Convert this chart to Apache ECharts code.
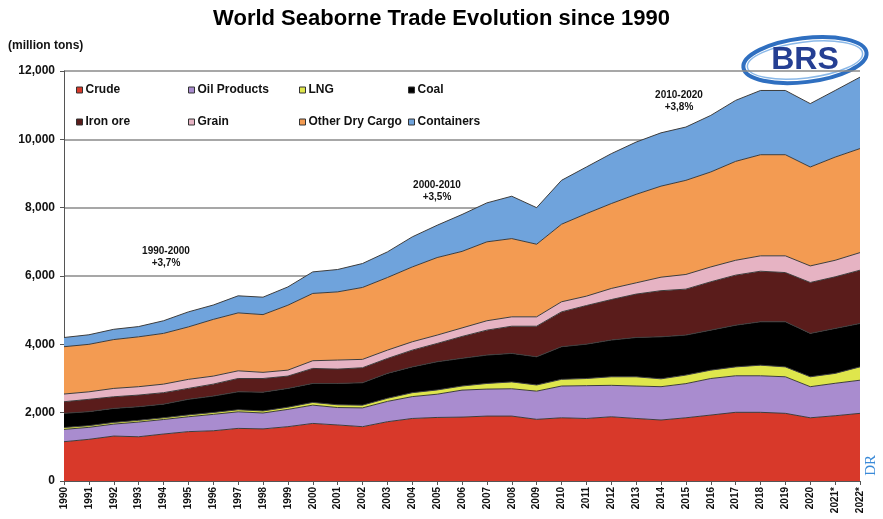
<!DOCTYPE html>
<html>
<head>
<meta charset="utf-8">
<script src="https://cdn.jsdelivr.net/npm/echarts@6/dist/echarts.min.js"></script>
<style>
html,body{margin:0;padding:0;background:#fff;}
#chart{width:883px;height:519px;}
</style>
</head>
<body>
<div id="chart"></div>
<script>
const years = ['1990','1991','1992','1993','1994','1995','1996','1997','1998','1999','2000','2001','2002','2003','2004','2005','2006','2007','2008','2009','2010','2011','2012','2013','2014','2015','2016','2017','2018','2019','2020','2021*','2022*'];

const crude       = [1150,1220,1315,1295,1375,1445,1470,1540,1525,1590,1685,1640,1590,1735,1830,1860,1870,1900,1900,1805,1850,1830,1880,1830,1785,1850,1930,2010,2010,1980,1850,1910,1980];
const oilProducts = [360,350,350,430,425,435,480,485,465,505,535,510,550,595,640,680,790,790,800,825,930,960,920,950,975,1000,1070,1070,1070,1070,910,950,970];
const lng         = [55,50,50,50,50,55,55,60,60,65,80,80,80,90,115,125,120,165,200,180,195,210,250,270,230,250,245,260,310,290,290,290,390];
const coal        = [415,410,410,400,400,455,480,525,550,550,555,625,655,730,755,825,810,830,835,825,955,1005,1075,1150,1230,1170,1170,1220,1270,1320,1270,1315,1270];
const ironOre     = [340,360,340,340,335,320,350,390,400,360,440,420,440,435,490,535,640,730,795,895,1020,1130,1185,1270,1350,1345,1415,1465,1480,1440,1490,1510,1560];
const grain       = [225,220,245,245,250,265,235,225,180,175,225,265,245,245,245,245,250,275,275,275,295,275,325,330,395,430,435,435,450,490,485,485,515];
const otherDry    = [1385,1390,1430,1460,1485,1535,1660,1695,1690,1900,1970,1995,2105,2125,2190,2270,2240,2310,2290,2125,2270,2415,2485,2590,2665,2755,2780,2895,2960,2960,2895,3020,3045];
const containers  = [270,280,300,300,370,440,420,500,510,535,630,655,700,750,880,945,1080,1140,1240,1070,1285,1365,1460,1530,1560,1560,1655,1785,1880,1880,1855,1950,2090];

const seriesNames = ['Crude','Oil Products','LNG','Coal','Iron ore','Grain','Other Dry Cargo','Containers'];
const seriesData = [crude, oilProducts, lng, coal, ironOre, grain, otherDry, containers];
const seriesColors = ['#d8392a','#a98ccf','#dfe64c','#000000','#5a1c1b','#e6b3c3','#f39b52','#6fa3dc'];

const annotations = [
  {text:'1990-2000\n+3,7%', x:166, y:245},
  {text:'2000-2010\n+3,5%', x:437, y:179},
  {text:'2010-2020\n+3,8%', x:679, y:89}
];

const FONT = '"Liberation Sans", Arial, sans-serif';
const chart = echarts.init(document.getElementById('chart'));

const legendPos = [[76,84],[188,84],[299,84],[408,84],[76,116],[188,116],[299,116],[408,116]];
const legends = seriesNames.map((n,i)=>({
  data:[n],
  left:legendPos[i][0], top:legendPos[i][1], padding:0,
  icon:'rect', itemWidth:6, itemHeight:6, itemGap:2,
  itemStyle:{borderColor:'#333', borderWidth:1},
  textStyle:{fontFamily:FONT, fontWeight:'bold', fontSize:12, color:'#111', padding:[0,0,0,-2]},
  selectedMode:false
}));

const option = {
  backgroundColor:'#ffffff',
  animation:false,
  title:{
    text:'World Seaborne Trade Evolution since 1990',
    left:'center', top:3,
    textStyle:{fontFamily:FONT, fontWeight:'bold', fontSize:22, color:'#000'}
  },
  legend:legends,
  grid:{left:64, right:23, top:71, bottom:38},
  xAxis:{
    type:'category', data:years, boundaryGap:false,
    axisLine:{lineStyle:{color:'#555', width:1}},
    axisTick:{show:true, length:4, lineStyle:{color:'#555'}},
    axisLabel:{rotate:90, fontFamily:FONT, fontWeight:'bold', fontSize:10, color:'#111', margin:6, interval:0},
    splitLine:{show:false}
  },
  yAxis:{
    type:'value', min:0, max:12000, interval:2000,
    name:'(million tons)', nameLocation:'end', nameGap:19,
    nameTextStyle:{fontFamily:FONT, fontWeight:'bold', fontSize:12, color:'#111', align:'left', padding:[0,0,0,-56]},
    axisLine:{show:true, lineStyle:{color:'#555', width:1}},
    axisTick:{show:true, length:4, lineStyle:{color:'#555'}},
    axisLabel:{fontFamily:FONT, fontWeight:'bold', fontSize:12, color:'#111', margin:9,
      formatter:v=>v.toLocaleString('en-US')},
    splitLine:{show:true, lineStyle:{color:'#8a8a8a', width:1.5}}
  },
  series:seriesNames.map((n,i)=>({
    name:n, type:'line', stack:'total', data:seriesData[i],
    symbol:'none', smooth:false,
    lineStyle:{color:'#3d3d3d', width:1},
    areaStyle:{color:seriesColors[i], opacity:1},
    itemStyle:{color:seriesColors[i]},
    z:2
  })),
  graphic:[
    ...annotations.map(a=>({
      type:'text', left:a.x-30, top:a.y, z:10,
      style:{text:a.text, fontFamily:FONT, fontWeight:'bold', fontSize:10, fill:'#111', textAlign:'center', lineHeight:12, width:60}
    })),
    {type:'group', left:738, top:28, z:20, children:[
      {type:'ellipse', shape:{cx:64, cy:26, rx:62, ry:22},
        style:{fill:'none', stroke:'#2f6fc0', lineWidth:4}, rotation:0.12, originX:64, originY:26},
      {type:'ellipse', shape:{cx:64, cy:26, rx:58, ry:18},
        style:{fill:'#ffffff', stroke:'#8ab8e8', lineWidth:1.5}, rotation:0.12, originX:64, originY:26},
      {type:'text', x:64, y:26, style:{text:'BRS', fontFamily:FONT, fontWeight:'bold', fontSize:32, fill:'#253f93', textAlign:'center', textVerticalAlign:'middle'}}
    ]},
    {type:'text', left:864, top:455, rotation:Math.PI/2, z:20,
      style:{text:'DR', fontFamily:'"Liberation Serif", serif', fontSize:15, fill:'#3a8ad8'}}
  ]
};
chart.setOption(option);
</script>
</body>
</html>
